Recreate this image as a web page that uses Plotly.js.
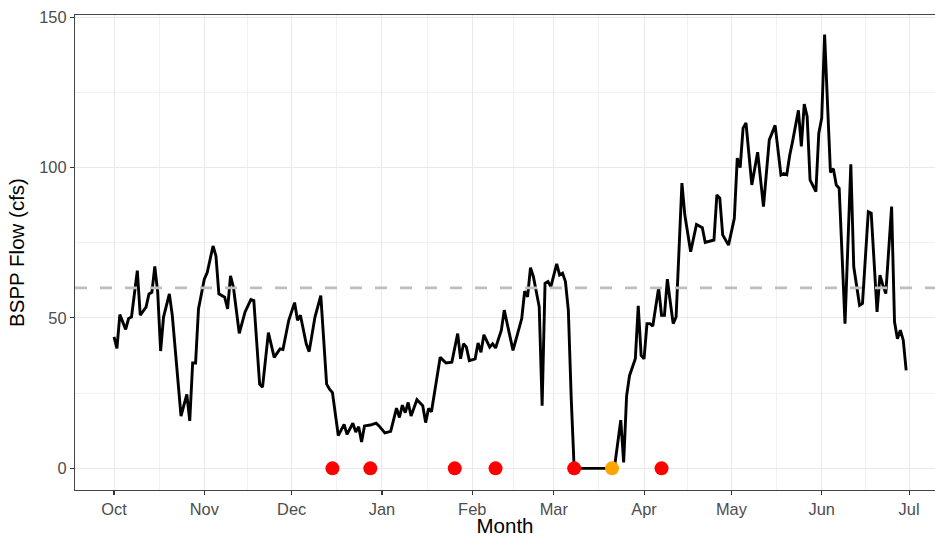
<!DOCTYPE html>
<html>
<head>
<meta charset="utf-8">
<script src="https://cdn.plot.ly/plotly-3.0.1.min.js"></script>
<style>html,body{margin:0;padding:0;background:#fff;}#chart{width:935px;height:537px;}</style>
</head>
<body>
<div id="chart"></div>
<script>
// ---- data ----
const seasonStart = '2018-10-01';
// day of season (0 = Oct 1) and BSPP flow (cfs)
const flowDay = [0,1,2,4,5,6,8,9,11,12,13,14,15,16,17,19,20,23,25,26,27,28,29,31,32,34,35,36,38,39,40,41,43,45,47,48,50,51,53,55,57,58,60,62,63,64,66,67,69,71,73,74,75,77,79,80,82,83,84,85,86,88,90,91,93,95,97,98,99,100,101,102,104,106,107,108,109,112,114,116,118,119,120,121,122,124,125,126,127,129,130,131,133,134,137,140,141,142,143,144,146,147,148,149,150,152,153,154,155,156,157,158,165,171,172,174,175,176,177,179,180,181,182,183,184,185,187,188,189,190,191,192,193,195,196,198,200,202,203,206,207,208,209,211,213,214,215,216,217,219,221,223,225,227,229,230,231,232,233,235,236,237,238,239,241,242,243,244,245,246,247,248,249,251,253,254,256,257,259,260,262,263,264,265,267,268,269,270,271,272];
const flowCfs = [43.7,39.9,51.1,46.2,49.8,50.3,65.7,50.9,53.6,58,58.5,67.1,58.5,39,50.3,58,50.9,17.4,24.6,15.8,35,35,53,62.9,65.1,73.9,70.6,58,56.9,53,64,60.2,44.9,52,56.1,55.8,28,27,45.1,36.9,39.7,39.5,49.2,55.1,49.2,50.9,41.4,38.8,50.3,57.4,28,26.3,25.2,10.9,14.6,11.3,15,12.1,13.8,8.8,14.1,14.4,15,14.1,11.8,12.3,20,16.9,21,18.5,21.9,17.4,22.8,20.8,15.2,19.9,18.8,36.9,35,35.3,44.8,36.4,41.4,40.3,35.8,36.4,41.7,38.6,44.4,40.3,41.4,40,45.9,52.6,39.2,49.8,58.9,57,66.7,63.7,53.7,20.8,61.5,62.1,60.4,68,64.3,64.9,62.1,52.6,23,0,0,0,1.5,16,2,24,30.8,36.4,54,37.5,36.4,48.1,48.1,47.3,60,50.9,50.9,62.9,55.3,48.1,50.3,94.8,84.2,72,81.1,80,75.1,75.9,90.9,89.8,77.6,74.2,83.1,103.1,100,113.1,114.8,94.2,105.1,87,109.2,114,97.5,98,97.6,104,108.7,119,107,121.1,117,95.9,92,111.4,116.4,144.2,120.9,98.4,99.6,94.2,93.1,48.1,101.1,67,54.2,54.8,85.3,84.8,52,64.2,60.9,58.1,87,48.7,43.1,45.9,42.6,32.6];

const redEventDates = ['2018-12-15','2018-12-28','2019-01-26','2019-02-09','2019-03-08','2019-04-07'];
const redEventFlow = [0,0,0,0,0,0];
const orangeEventDates = ['2019-03-21'];
const orangeEventFlow = [0];

const flowThreshold = 60;

const monthTickDates = ['2018-10-01','2018-11-01','2018-12-01','2019-01-01','2019-02-01','2019-03-01','2019-04-01','2019-05-01','2019-06-01','2019-07-01'];
const monthTickLabels = ['Oct','Nov','Dec','Jan','Feb','Mar','Apr','May','Jun','Jul'];
const yTickVals = [0,50,100,150];
const yMinorVals = [25,75,125];

// ---- helpers ----
const DAY = 86400000;
const startMs = Date.parse(seasonStart + 'T00:00:00Z');
function fmt(ms){ return new Date(ms).toISOString().replace('T',' ').slice(0,19); }
const flowDates = flowDay.map(d => fmt(startMs + d*DAY));
const tickMs = monthTickDates.map(s => Date.parse(s + 'T00:00:00Z'));
const minorX = [];
for (let i = 0; i < tickMs.length - 1; i++) minorX.push(fmt((tickMs[i] + tickMs[i+1]) / 2));

const FONT = 'Liberation Sans, Arial, Helvetica, sans-serif';

const traces = [
  {x: flowDates, y: flowCfs, type: 'scatter', mode: 'lines',
   line: {color: '#000000', width: 2.9}, hoverinfo: 'x+y'},
  {x: redEventDates, y: redEventFlow, type: 'scatter', mode: 'markers',
   marker: {color: '#FF0000', size: 14, line: {width: 0}}},
  {x: orangeEventDates, y: orangeEventFlow, type: 'scatter', mode: 'markers',
   marker: {color: '#FFA500', size: 14, line: {width: 0}}}
];

const layout = {
  width: 935, height: 537,
  margin: {l: 75, r: 0, t: 15, b: 47, pad: 0},
  paper_bgcolor: '#ffffff', plot_bgcolor: '#ffffff',
  showlegend: false,
  font: {family: FONT, color: '#000000'},
  xaxis: {
    type: 'date',
    range: [fmt(startMs - 13.4*DAY), fmt(startMs + 281.9*DAY)],
    tickmode: 'array', tickvals: monthTickDates, ticktext: monthTickLabels,
    ticks: 'outside', ticklen: 4, tickwidth: 1.1, tickcolor: '#333333',
    tickfont: {family: FONT, size: 16.4, color: '#4D4D4D'},
    showgrid: true, gridcolor: '#E9E9E9', gridwidth: 1,
    minor: {tickmode: 'array', tickvals: minorX, showgrid: true, gridcolor: '#F1F1F1', gridwidth: 1, ticks: ''},
    showline: true, linecolor: '#444444', linewidth: 1.2, mirror: true,
    zeroline: false,
    title: {text: 'Month', font: {family: FONT, size: 20.5, color: '#000000'}, standoff: 7}
  },
  yaxis: {
    range: [-7.2, 150.7],
    tickmode: 'array', tickvals: yTickVals,
    ticks: 'outside', ticklen: 4, tickwidth: 1.1, tickcolor: '#333333',
    tickfont: {family: FONT, size: 16.4, color: '#4D4D4D'},
    showgrid: true, gridcolor: '#E9E9E9', gridwidth: 1,
    minor: {tickmode: 'array', tickvals: yMinorVals, showgrid: true, gridcolor: '#F1F1F1', gridwidth: 1, ticks: ''},
    showline: true, linecolor: '#444444', linewidth: 1.2, mirror: false,
    zeroline: false,
    title: {text: 'BSPP Flow (cfs)', font: {family: FONT, size: 20.5, color: '#000000'}, standoff: 9}
  },
  shapes: [
    {type: 'line', xref: 'paper', x0: 0, x1: 1, yref: 'y', y0: flowThreshold, y1: flowThreshold,
     line: {color: '#BEBEBE', width: 2.6, dash: '12px,13px'}, layer: 'above'}
  ]
};

Plotly.newPlot('chart', traces, layout, {displayModeBar: false, staticPlot: true});
</script>
</body>
</html>
